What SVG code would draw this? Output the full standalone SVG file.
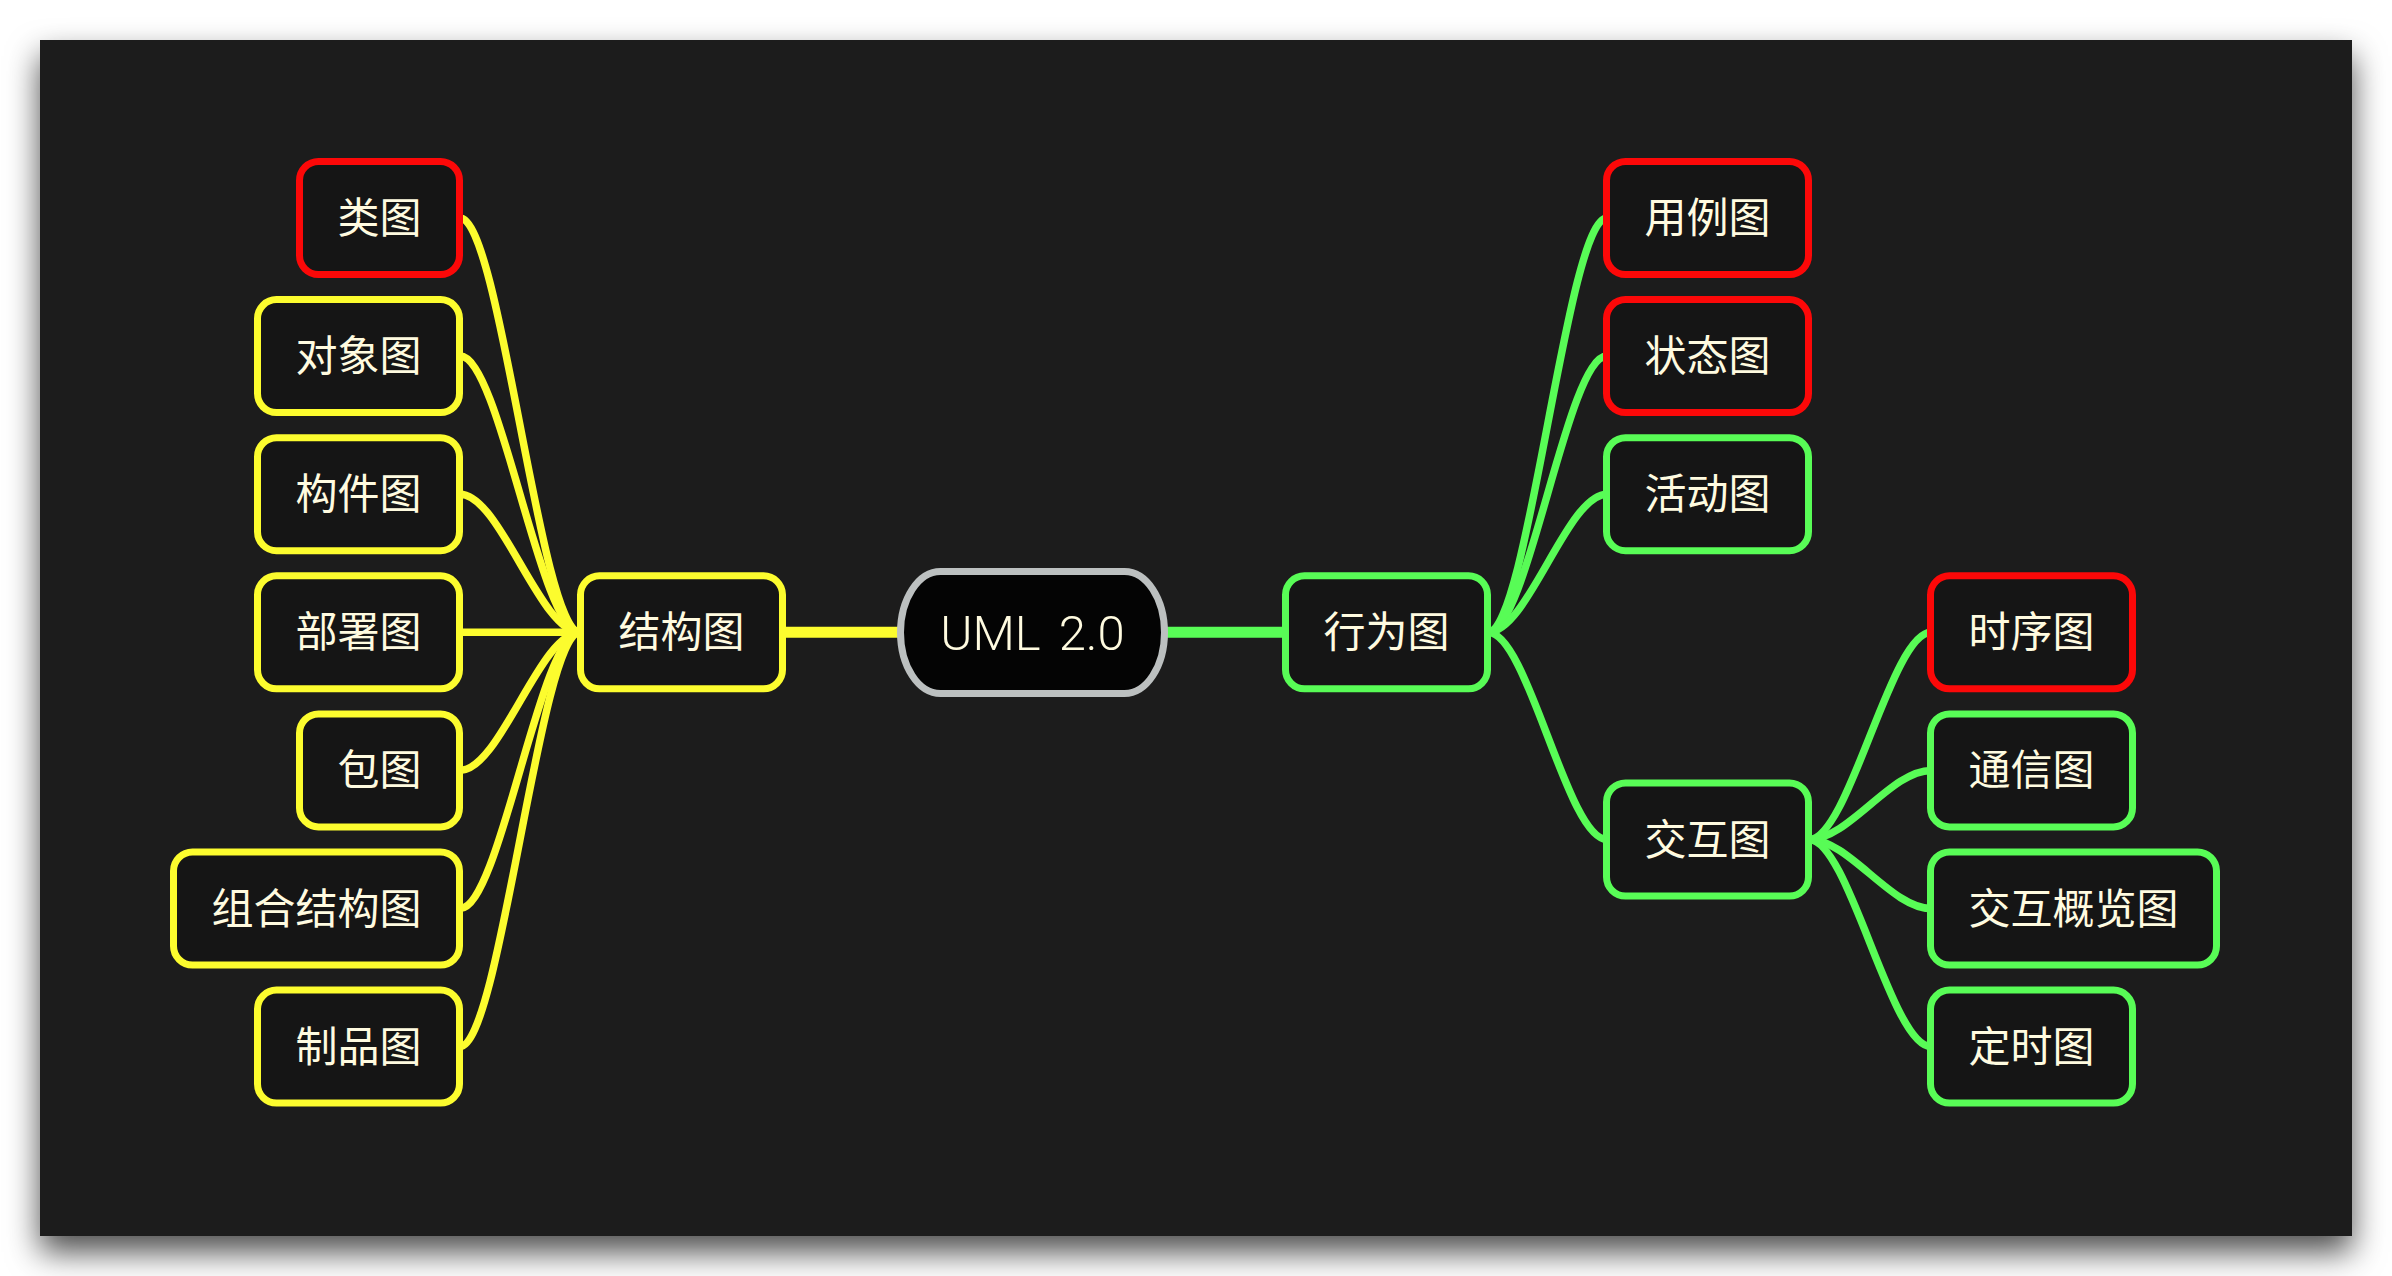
<svg xmlns="http://www.w3.org/2000/svg" width="2392" height="1276" viewBox="0 0 2392 1276">
<defs>
<filter id="shadow" x="-10%" y="-10%" width="120%" height="125%">
<feDropShadow dx="0" dy="16" stdDeviation="16" flood-color="#000" flood-opacity="0.7"/>
</filter>
<style>
.node rect{fill:#151515;stroke-width:7}
.y rect{stroke:#fcfc2e}
.g rect{stroke:#58fc56}
.r rect{stroke:#fc0808}
.t{font-family:"Noto Sans CJK SC","Noto Sans",sans-serif;font-size:42px;fill:#fffbe0;text-anchor:middle}
.yl{fill:none;stroke:#fcfc2e;stroke-width:7.5;stroke-linecap:round}
.gl{fill:none;stroke:#58fc56;stroke-width:7.5;stroke-linecap:round}
</style>
</defs>
<rect x="0" y="0" width="2392" height="1276" fill="#ffffff"/>
<rect x="40" y="40" width="2312" height="1196" fill="#1b1b1b" filter="url(#shadow)"/>

<g id="connectors">
<path class="yl" style="stroke-width:11;stroke-linecap:butt" d="M786,632.3 L899,632.3"/>
<path class="gl" style="stroke-width:11;stroke-linecap:butt" d="M1166,632.3 L1284,632.3"/>
<path class="yl" d="M460,218 C500,218 540,632.3 580,632.3"/>
<path class="yl" d="M460,356.1 C500,356.1 540,632.3 580,632.3"/>
<path class="yl" d="M460,494.2 C500,494.2 540,632.3 580,632.3"/>
<path class="yl" d="M460,632.3 L580,632.3"/>
<path class="yl" d="M460,770.4 C500,770.4 540,632.3 580,632.3"/>
<path class="yl" d="M460,908.5 C500,908.5 540,632.3 580,632.3"/>
<path class="yl" d="M460,1046.6 C500,1046.6 540,632.3 580,632.3"/>
<path class="gl" d="M1488,632.3 C1528,632.3 1567,218 1607,218"/>
<path class="gl" d="M1488,632.3 C1528,632.3 1567,356.1 1607,356.1"/>
<path class="gl" d="M1488,632.3 C1528,632.3 1567,494.2 1607,494.2"/>
<path class="gl" d="M1488,632.3 C1528,632.3 1567,839.5 1607,839.5"/>
<path class="gl" d="M1809,839.5 C1849,839.5 1891,632.3 1931,632.3"/>
<path class="gl" d="M1809,839.5 C1849,839.5 1891,770.4 1931,770.4"/>
<path class="gl" d="M1809,839.5 C1849,839.5 1891,908.5 1931,908.5"/>
<path class="gl" d="M1809,839.5 C1849,839.5 1891,1046.6 1931,1046.6"/>
</g>

<g id="root">
<rect x="900.5" y="571.5" width="264" height="122" rx="40" ry="61" fill="#040404" stroke="#bcc0c0" stroke-width="7"/>
<text x="1032.5" y="650" font-family="Roboto,'Liberation Sans',sans-serif" font-weight="300" font-size="49" word-spacing="6" fill="#fffbe0" text-anchor="middle">UML 2.0</text>
</g>

<g id="n-structure" class="node y"><rect x="580.5" y="575.8" width="202" height="113" rx="19"/><text class="t" x="681.5" y="647.3">结构图</text></g>
<g id="n-class" class="node r"><rect x="299.5" y="161.5" width="160" height="113" rx="19"/><text class="t" x="379.5" y="233">类图</text></g>
<g id="n-object" class="node y"><rect x="257.5" y="299.6" width="202" height="113" rx="19"/><text class="t" x="358.5" y="371.1">对象图</text></g>
<g id="n-component" class="node y"><rect x="257.5" y="437.7" width="202" height="113" rx="19"/><text class="t" x="358.5" y="509.2">构件图</text></g>
<g id="n-deployment" class="node y"><rect x="257.5" y="575.8" width="202" height="113" rx="19"/><text class="t" x="358.5" y="647.3">部署图</text></g>
<g id="n-package" class="node y"><rect x="299.5" y="713.9" width="160" height="113" rx="19"/><text class="t" x="379.5" y="785.4">包图</text></g>
<g id="n-composite" class="node y"><rect x="173.5" y="852" width="286" height="113" rx="19"/><text class="t" x="316.5" y="923.5">组合结构图</text></g>
<g id="n-artifact" class="node y"><rect x="257.5" y="990.1" width="202" height="113" rx="19"/><text class="t" x="358.5" y="1061.6">制品图</text></g>

<g id="n-behavior" class="node g"><rect x="1285.5" y="575.8" width="202" height="113" rx="19"/><text class="t" x="1386.5" y="647.3">行为图</text></g>
<g id="n-usecase" class="node r"><rect x="1606.5" y="161.5" width="202" height="113" rx="19"/><text class="t" x="1707.5" y="233">用例图</text></g>
<g id="n-state" class="node r"><rect x="1606.5" y="299.6" width="202" height="113" rx="19"/><text class="t" x="1707.5" y="371.1">状态图</text></g>
<g id="n-activity" class="node g"><rect x="1606.5" y="437.7" width="202" height="113" rx="19"/><text class="t" x="1707.5" y="509.2">活动图</text></g>
<g id="n-interaction" class="node g"><rect x="1606.5" y="783" width="202" height="113" rx="19"/><text class="t" x="1707.5" y="854.5">交互图</text></g>
<g id="n-sequence" class="node r"><rect x="1930.5" y="575.8" width="202" height="113" rx="19"/><text class="t" x="2031.5" y="647.3">时序图</text></g>
<g id="n-communication" class="node g"><rect x="1930.5" y="713.9" width="202" height="113" rx="19"/><text class="t" x="2031.5" y="785.4">通信图</text></g>
<g id="n-overview" class="node g"><rect x="1930.5" y="852" width="286" height="113" rx="19"/><text class="t" x="2073.5" y="923.5">交互概览图</text></g>
<g id="n-timing" class="node g"><rect x="1930.5" y="990.1" width="202" height="113" rx="19"/><text class="t" x="2031.5" y="1061.6">定时图</text></g>
</svg>
